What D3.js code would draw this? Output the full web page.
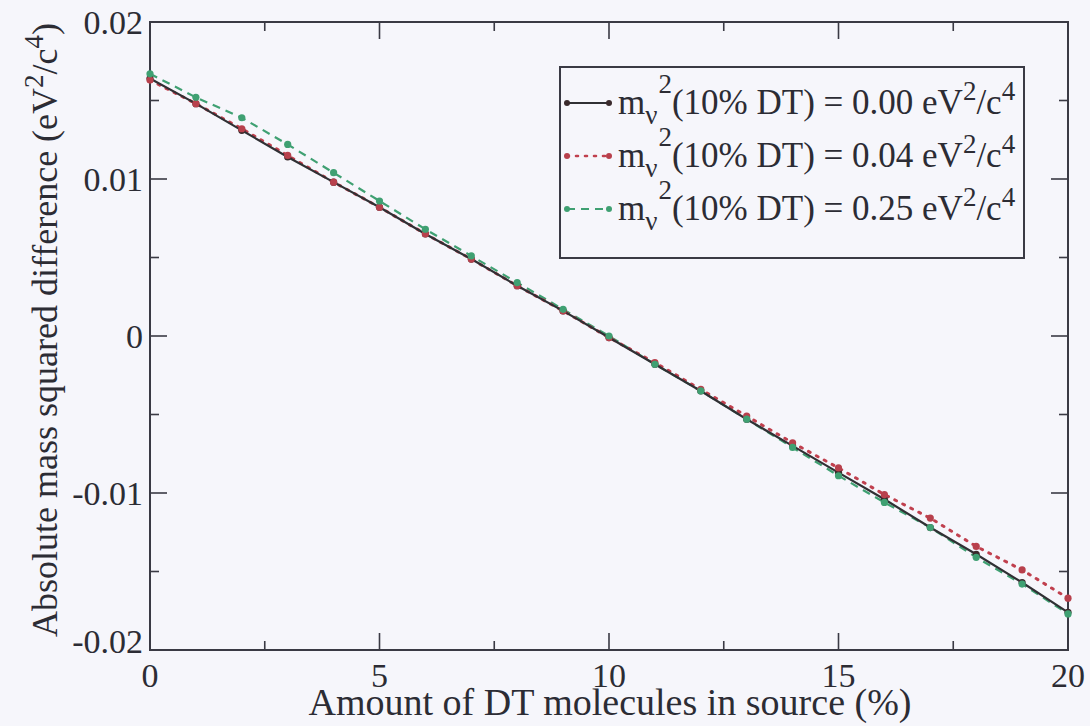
<!DOCTYPE html>
<html><head><meta charset="utf-8">
<script src="https://cdn.jsdelivr.net/npm/d3@7"></script>
</head>
<body style="margin:0;padding:0;background:#f6f6fb">
<svg id="c" width="1090" height="726" style="display:block"></svg>
<script>
const dtPercent = d3.range(0, 21);
const seriesMass0 = [0.0164, 0.0148, 0.0131, 0.0114, 0.0098, 0.0082, 0.0065, 0.0049, 0.0032, 0.0016, -0.0001, -0.0018, -0.0035, -0.0053, -0.0070, -0.0087, -0.0104, -0.0122, -0.0139, -0.0157, -0.0176];
const seriesMass004 = [0.0163, 0.0148, 0.0132, 0.0115, 0.0098, 0.0082, 0.0065, 0.0049, 0.0032, 0.0016, -0.0001, -0.0017, -0.0034, -0.0051, -0.0068, -0.0084, -0.0101, -0.0116, -0.0134, -0.0149, -0.0167];
const seriesMass025 = [0.0167, 0.0152, 0.0139, 0.0122, 0.0104, 0.0086, 0.0068, 0.0051, 0.0034, 0.0017, 0.0000, -0.0018, -0.0035, -0.0053, -0.0071, -0.0089, -0.0106, -0.0122, -0.0141, -0.0158, -0.0177];
const legendValues = ["0.00", "0.04", "0.25"];
const xTicks = [0, 5, 10, 15, 20];
const xMinor = [2.5, 7.5, 12.5, 17.5];
const yTicks = [0.02, 0.01, 0, -0.01, -0.02];
const yTickLabels = ["0.02", "0.01", "0", "-0.01", "-0.02"];
const yMinor = [0.015, 0.005, -0.005, -0.015];

const FONT = '"Liberation Serif", "Tinos", "Times New Roman"';
const TXT = "#2c2c34";
const svg = d3.select("#c");
const L = 150, R = 1068, T = 22, B = 650;
const x = d3.scaleLinear().domain([0, 20]).range([L, R]);
const y = d3.scaleLinear().domain([-0.02, 0.02]).range([B, T]);
const axisCol = "#3a3a44";
const mkText = (size) => svg.append("text").attr("font-size", size).style("font-family", FONT).style("fill", TXT);

// frame
svg.append("rect").attr("x", L).attr("y", T).attr("width", R - L).attr("height", B - T)
  .attr("fill", "none").attr("stroke", axisCol).attr("stroke-width", 2);

const g = svg.append("g");
const tk = (x1, y1, x2, y2) => g.append("line").attr("x1", x1).attr("y1", y1).attr("x2", x2).attr("y2", y2)
  .attr("stroke", axisCol).attr("stroke-width", 1.6);
xTicks.forEach(v => { tk(x(v), B, x(v), B - 17); tk(x(v), T, x(v), T + 17); });
xMinor.forEach(v => { tk(x(v), B, x(v), B - 9); tk(x(v), T, x(v), T + 9); });
yTicks.forEach(v => { tk(L, y(v), L + 17, y(v)); tk(R, y(v), R - 17, y(v)); });
yMinor.forEach(v => { tk(L, y(v), L + 9, y(v)); tk(R, y(v), R - 9, y(v)); });

// tick labels
xTicks.forEach(v => mkText(34).attr("x", x(v)).attr("y", 687).attr("text-anchor", "middle").text(v));
yTicks.forEach((v, i) => mkText(34).attr("x", 143).attr("y", y(v) + (i === yTicks.length - 1 ? 3 : 12))
  .attr("text-anchor", "end").text(yTickLabels[i]));

// axis titles
mkText(38).attr("x", 610).attr("y", 715).attr("text-anchor", "middle")
  .text("Amount of DT molecules in source (%)");
const yt = mkText(36).attr("transform", `translate(57,330) rotate(-90)`).attr("text-anchor", "middle");
yt.append("tspan").text("Absolute mass squared difference (eV");
yt.append("tspan").attr("dy", -14).attr("font-size", 27).text("2");
yt.append("tspan").attr("dy", 14).text("/c");
yt.append("tspan").attr("dy", -14).attr("font-size", 27).text("4");
yt.append("tspan").attr("dy", 14).text(")");

const series = [
  { vals: seriesMass0, color: "#303034", dash: null, mcol: "#3a2a2c", width: 2.2 },
  { vals: seriesMass004, color: "#c0404e", dash: "2,7", mcol: "#b8404c", width: 3 },
  { vals: seriesMass025, color: "#3fa072", dash: "8,6", mcol: "#3fa072", width: 2.2 }
];
const line = d3.line().x((d, i) => x(dtPercent[i])).y(d => y(d));
[2, 1, 0].forEach(k => {
  const s = series[k];
  svg.append("path").datum(s.vals).attr("d", line).attr("fill", "none").attr("stroke", s.color)
    .attr("stroke-width", s.width).attr("stroke-dasharray", s.dash).attr("stroke-linecap", k === 1 ? "round" : "butt");
});
[0, 1, 2].forEach(k => {
  const s = series[k];
  svg.append("g").selectAll("circle").data(s.vals).join("circle")
    .attr("cx", (d, i) => x(dtPercent[i])).attr("cy", d => y(d)).attr("r", 3.6).attr("fill", s.mcol);
});

// legend
svg.append("rect").attr("x", 560).attr("y", 67).attr("width", 464).attr("height", 191)
  .attr("fill", "#f6f6fb").attr("stroke", axisCol).attr("stroke-width", 2);
series.forEach((s, i) => {
  const ly = 103 + i * 53;
  svg.append("line").attr("x1", 567).attr("x2", 609).attr("y1", ly).attr("y2", ly)
    .attr("stroke", s.color).attr("stroke-width", i === 1 ? 2.6 : 2).attr("stroke-dasharray", s.dash)
    .attr("stroke-linecap", i === 1 ? "round" : "butt");
  [567, 609].forEach(cx => svg.append("circle").attr("cx", cx).attr("cy", ly).attr("r", 3).attr("fill", s.mcol));
  const t = mkText(35).attr("x", 618).attr("y", ly + 11);
  t.append("tspan").text("m");
  t.append("tspan").attr("dy", 10).attr("font-size", 27).text("ν");
  t.append("tspan").attr("dy", -31).attr("dx", 1).attr("font-size", 27).text("2");
  t.append("tspan").attr("dy", 21).text(`(10% DT) = ${legendValues[i]} eV`);
  t.append("tspan").attr("dy", -14).attr("font-size", 27).text("2");
  t.append("tspan").attr("dy", 14).text("/c");
  t.append("tspan").attr("dy", -14).attr("font-size", 27).text("4");
});
</script>
</body></html>
